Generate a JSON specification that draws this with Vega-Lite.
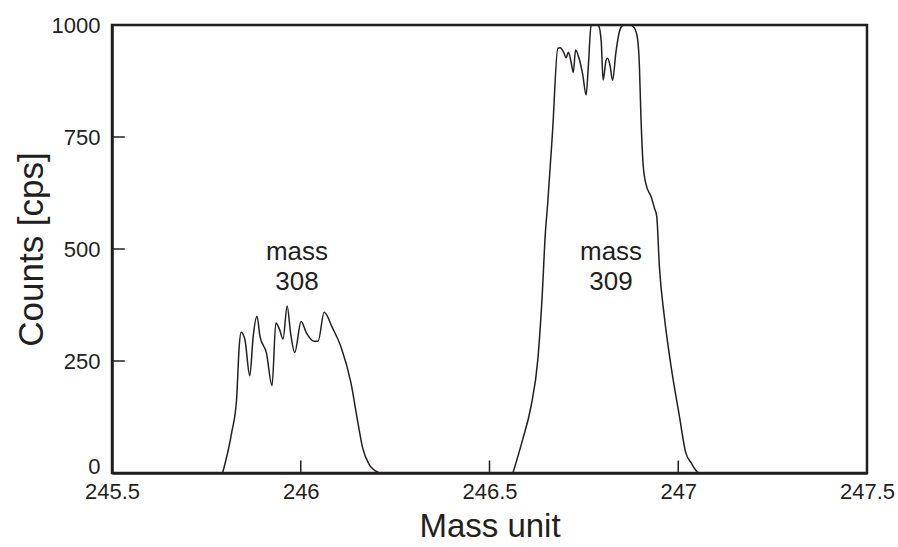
{
  "$schema": "https://vega.github.io/schema/vega-lite/v6.json",
  "autosize": {"type": "none"},
  "padding": {"left": 112, "top": 25, "right": 31, "bottom": 74},
  "width": 755,
  "height": 448,
  "config": {
    "font": "Liberation Sans",
    "view": {"stroke": "#231f20", "strokeWidth": 2.5},
    "axis": {
      "domainColor": "#231f20", "domainWidth": 2.5,
      "ticks": false,
      "labelColor": "#231f20", "titleColor": "#231f20",
      "labelFont": "Liberation Sans", "titleFont": "Liberation Sans",
      "titleFontWeight": "normal", "grid": false, "labelFlush": false
    }
  },
  "datasets": {
    "spectrum": [
      {"peak": "308", "mass": 245.793, "counts": 0},
      {"peak": "308", "mass": 245.817, "counts": 90},
      {"peak": "308", "mass": 245.830, "counts": 164},
      {"peak": "308", "mass": 245.837, "counts": 283},
      {"peak": "308", "mass": 245.842, "counts": 314},
      {"peak": "308", "mass": 245.852, "counts": 298},
      {"peak": "308", "mass": 245.865, "counts": 217},
      {"peak": "308", "mass": 245.874, "counts": 305},
      {"peak": "308", "mass": 245.884, "counts": 350},
      {"peak": "308", "mass": 245.892, "counts": 305},
      {"peak": "308", "mass": 245.909, "counts": 268},
      {"peak": "308", "mass": 245.924, "counts": 195},
      {"peak": "308", "mass": 245.934, "counts": 335},
      {"peak": "308", "mass": 245.944, "counts": 320},
      {"peak": "308", "mass": 245.953, "counts": 299},
      {"peak": "308", "mass": 245.964, "counts": 373},
      {"peak": "308", "mass": 245.973, "counts": 313},
      {"peak": "308", "mass": 245.984, "counts": 269},
      {"peak": "308", "mass": 246.001, "counts": 338},
      {"peak": "308", "mass": 246.015, "counts": 313},
      {"peak": "308", "mass": 246.036, "counts": 294},
      {"peak": "308", "mass": 246.046, "counts": 294},
      {"peak": "308", "mass": 246.062, "counts": 359},
      {"peak": "308", "mass": 246.084, "counts": 324},
      {"peak": "308", "mass": 246.106, "counts": 283},
      {"peak": "308", "mass": 246.133, "counts": 201},
      {"peak": "308", "mass": 246.150, "counts": 119},
      {"peak": "308", "mass": 246.164, "counts": 56},
      {"peak": "308", "mass": 246.181, "counts": 19},
      {"peak": "308", "mass": 246.204, "counts": 2},
      {"peak": "308", "mass": 246.212, "counts": 0},
      {"peak": "309", "mass": 246.562, "counts": 0},
      {"peak": "309", "mass": 246.588, "counts": 75},
      {"peak": "309", "mass": 246.610, "counts": 149},
      {"peak": "309", "mass": 246.628, "counts": 253},
      {"peak": "309", "mass": 246.639, "counts": 387},
      {"peak": "309", "mass": 246.648, "counts": 536},
      {"peak": "309", "mass": 246.654, "counts": 600},
      {"peak": "309", "mass": 246.667, "counts": 762},
      {"peak": "309", "mass": 246.681, "counts": 948},
      {"peak": "309", "mass": 246.687, "counts": 949},
      {"peak": "309", "mass": 246.696, "counts": 940},
      {"peak": "309", "mass": 246.703, "counts": 927},
      {"peak": "309", "mass": 246.709, "counts": 939},
      {"peak": "309", "mass": 246.716, "counts": 918},
      {"peak": "309", "mass": 246.722, "counts": 894},
      {"peak": "309", "mass": 246.728, "counts": 944},
      {"peak": "309", "mass": 246.736, "counts": 929},
      {"peak": "309", "mass": 246.747, "counts": 889},
      {"peak": "309", "mass": 246.756, "counts": 844},
      {"peak": "309", "mass": 246.762, "counts": 911},
      {"peak": "309", "mass": 246.769, "counts": 998},
      {"peak": "309", "mass": 246.778, "counts": 1002},
      {"peak": "309", "mass": 246.789, "counts": 998},
      {"peak": "309", "mass": 246.796, "counts": 963},
      {"peak": "309", "mass": 246.801, "counts": 877},
      {"peak": "309", "mass": 246.809, "counts": 922},
      {"peak": "309", "mass": 246.813, "counts": 926},
      {"peak": "309", "mass": 246.819, "counts": 911},
      {"peak": "309", "mass": 246.826, "counts": 877},
      {"peak": "309", "mass": 246.835, "counts": 940},
      {"peak": "309", "mass": 246.844, "counts": 985},
      {"peak": "309", "mass": 246.853, "counts": 999},
      {"peak": "309", "mass": 246.870, "counts": 1001},
      {"peak": "309", "mass": 246.884, "counts": 993},
      {"peak": "309", "mass": 246.892, "counts": 970},
      {"peak": "309", "mass": 246.897, "counts": 911},
      {"peak": "309", "mass": 246.901, "counts": 799},
      {"peak": "309", "mass": 246.907, "counts": 688},
      {"peak": "309", "mass": 246.915, "counts": 643},
      {"peak": "309", "mass": 246.928, "counts": 617},
      {"peak": "309", "mass": 246.937, "counts": 591},
      {"peak": "309", "mass": 246.943, "counts": 573},
      {"peak": "309", "mass": 246.950, "counts": 461},
      {"peak": "309", "mass": 246.963, "counts": 350},
      {"peak": "309", "mass": 246.981, "counts": 238},
      {"peak": "309", "mass": 247.003, "counts": 127},
      {"peak": "309", "mass": 247.020, "counts": 45},
      {"peak": "309", "mass": 247.034, "counts": 23},
      {"peak": "309", "mass": 247.051, "counts": 2},
      {"peak": "309", "mass": 247.056, "counts": 0}
    ],
    "labels": [
      {"mass": 245.99, "counts": 476, "text": ["mass", "308"]},
      {"mass": 246.822, "counts": 476, "text": ["mass", "309"]}
    ],
    "tickmarks": [
      {"tick": "x246", "tx": 246, "ty": 0},
      {"tick": "x246", "tx": 246, "ty": 28},
      {"tick": "x246.5", "tx": 246.5, "ty": 0},
      {"tick": "x246.5", "tx": 246.5, "ty": 28},
      {"tick": "x247", "tx": 247, "ty": 0},
      {"tick": "x247", "tx": 247, "ty": 28},
      {"tick": "y250", "tx": 245.5, "ty": 250},
      {"tick": "y250", "tx": 245.534, "ty": 250},
      {"tick": "y500", "tx": 245.5, "ty": 500},
      {"tick": "y500", "tx": 245.534, "ty": 500},
      {"tick": "y750", "tx": 245.5, "ty": 750},
      {"tick": "y750", "tx": 245.534, "ty": 750}
    ]
  },
  "layer": [
    {
      "data": {"name": "tickmarks"},
      "mark": {"type": "line", "stroke": "#231f20", "strokeWidth": 1.5},
      "encoding": {
        "x": {
          "field": "tx", "type": "quantitative",
          "scale": {"domain": [245.5, 247.5], "nice": false, "zero": false},
          "axis": {
            "title": "Mass unit", "values": [245.5, 246, 246.5, 247, 247.5],
            "format": "~g", "labelPadding": 8,
            "labelFontSize": 22, "titleFontSize": 33, "titlePadding": 8
          }
        },
        "y": {
          "field": "ty", "type": "quantitative",
          "scale": {"domain": [0, 1000], "nice": false},
          "axis": {
            "title": "Counts [cps]", "values": [0, 250, 500, 750, 1000],
            "format": "d", "labelPadding": 12,
            "labelOffset": {"condition": {"test": "datum.value === 0", "value": -7}, "value": 0},
            "labelFontSize": 22, "titleFontSize": 35, "titlePadding": 2
          }
        },
        "detail": {"field": "tick", "type": "nominal"}
      }
    },
    {
      "data": {"name": "spectrum"},
      "mark": {"type": "line", "color": "#231f20", "strokeWidth": 1.5, "clip": true, "interpolate": "monotone"},
      "encoding": {
        "x": {"field": "mass", "type": "quantitative"},
        "y": {"field": "counts", "type": "quantitative"},
        "detail": {"field": "peak"}
      }
    },
    {
      "data": {"name": "labels"},
      "mark": {"type": "text", "fontSize": 26, "lineHeight": 30, "color": "#231f20", "align": "center", "baseline": "alphabetic"},
      "encoding": {
        "x": {"field": "mass", "type": "quantitative"},
        "y": {"field": "counts", "type": "quantitative"},
        "text": {"field": "text"}
      }
    }
  ]
}
